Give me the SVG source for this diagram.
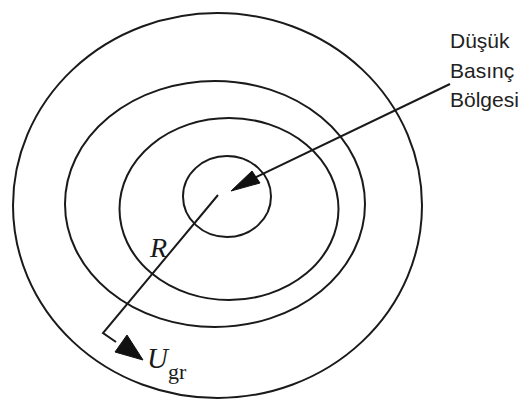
<svg xmlns="http://www.w3.org/2000/svg" width="531" height="405" viewBox="0 0 531 405">
<style>
.ring{fill:none;stroke:#1a1a1a;stroke-width:2}
.ln{fill:none;stroke:#1a1a1a;stroke-width:2}
.head{fill:#111;stroke:#111;stroke-width:1;stroke-linejoin:miter}
.lbl{font-family:"Liberation Sans",Arial,sans-serif;font-size:21px;fill:#222}
.math{font-family:"Liberation Serif","Times New Roman",serif;fill:#1a1a1a}
</style>
<rect width="531" height="405" fill="#fff"/>
<g id="ring-outer"><ellipse class="ring" cx="217.5" cy="205.5" rx="204.5" ry="192.5"/></g>
<g id="ring-2"><ellipse class="ring" cx="215" cy="204" rx="150" ry="123"/></g>
<g id="ring-3"><ellipse class="ring" cx="229" cy="209" rx="109.5" ry="91"/></g>
<g id="ring-inner"><ellipse class="ring" cx="227" cy="196.5" rx="44" ry="40.5"/></g>
<g id="label-low-pressure">
<text class="lbl" x="450" y="48">Düşük</text>
<text class="lbl" x="450" y="78">Basınç</text>
<text class="lbl" x="450" y="107">Bölgesi</text>
</g>
<g id="label-R"><text class="math" x="150" y="257" font-size="28" font-style="italic">R</text></g>
<g id="label-Ugr"><text class="math" x="147" y="368" font-size="29"><tspan font-style="italic">U</tspan><tspan font-size="22" dy="11">gr</tspan></text></g>
<g id="connectors">
<line class="ln" x1="450" y1="84" x2="254" y2="178"/>
<polygon class="head" points="231,191 252,171 260,183"/>
<polyline class="ln" points="218,195 103,333 116,342"/>
<polygon class="head" points="115,352 127,335 143,360"/>
</g>
</svg>
